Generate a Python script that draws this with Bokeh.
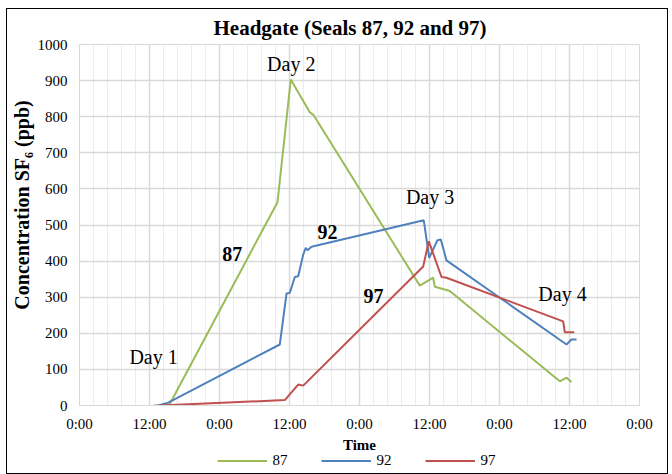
from bokeh.plotting import figure
from bokeh.layouts import column
from bokeh.models import FixedTicker, Legend, LegendItem, Range1d, Title
from bokeh.core.properties import value
from bokeh.embed import file_html
from bokeh.resources import INLINE

# time in hours from first 0:00
t87 = [12.69, 15.43, 33.94, 36.22, 39.48, 40.06, 58.34, 60.63, 60.91, 63.48, 82.34, 83.49, 84.34]
v87 = [0, 3, 563, 903, 812, 806, 332, 354, 329, 317, 67, 77, 65]

t92 = [13.49, 15.21, 34.34, 35.49, 36.05, 36.91, 37.49, 38.35, 38.79, 39.09, 39.77,
       59.02, 59.95, 61.37, 61.94, 62.91, 83.49, 84.34, 85.20]
v92 = [0, 8, 169, 310, 312, 356, 358, 418, 437, 430, 440,
       513, 409, 458, 460, 402, 169, 183, 183]

t97 = [13.77, 35.19, 37.49, 38.35, 58.92, 59.88, 62.06, 62.91, 82.92, 83.19, 84.81]
v97 = [0, 15, 58, 55, 385, 455, 356, 354, 233, 203, 203]

series_names = ["87", "92", "97"]

x_ticks = [0, 12, 24, 36, 48, 60, 72, 84, 96]
x_labels = ["0:00", "12:00", "0:00", "12:00", "0:00", "12:00", "0:00", "12:00", "0:00"]
y_ticks = [0, 100, 200, 300, 400, 500, 600, 700, 800, 900, 1000]

day_text = ["Day 1", "Day 2", "Day 3", "Day 4"]
day_x = [12.7, 36.3, 60.1, 82.8]
day_y = [133, 946, 578, 309]

ser_text = ["87", "92", "97"]
ser_x = [26.2, 42.5, 50.4]
ser_y = [420, 481, 303]

GREEN = "#9BBB59"
BLUE = "#4F81BD"
RED = "#C0504D"
COLORS = [GREEN, BLUE, RED]
FONT = "Liberation Serif"

p = figure(frame_width=560, frame_height=361, output_backend="svg", toolbar_location=None,
           x_range=Range1d(0, 96), y_range=Range1d(0, 1000),
           min_border_left=71, min_border_right=28, min_border_top=34, min_border_bottom=52)

p.title.text = "Headgate (Seals 87, 92 and 97)"
p.title.align = "left"
p.title.offset = 134
p.title.text_font = FONT
p.title.text_font_size = "21px"
p.title.text_font_style = "bold"
p.title.text_color = "black"
p.title.standoff = 9

minor = [i * 2.4 for i in range(41)]
xt = FixedTicker(ticks=x_ticks, minor_ticks=minor)
p.xaxis.ticker = xt
p.xgrid.ticker = xt
p.xaxis.major_label_overrides = {t: l for t, l in zip(x_ticks, x_labels)}
p.yaxis.ticker = FixedTicker(ticks=y_ticks)

p.xgrid.grid_line_color = "#d9d9d9"
p.xgrid.grid_line_width = 1.5
p.xgrid.minor_grid_line_color = "#ececec"
p.xgrid.minor_grid_line_width = 1
p.ygrid.grid_line_color = "#d9d9d9"
p.ygrid.grid_line_width = 1.5
p.outline_line_color = "#d9d9d9"

for ax in (p.xaxis[0], p.yaxis[0]):
    ax.axis_line_color = "#d9d9d9"
    ax.major_tick_line_color = None
    ax.minor_tick_line_color = None
    ax.major_tick_out = 0
    ax.major_tick_in = 0
    ax.minor_tick_out = 0
    ax.minor_tick_in = 0
    ax.major_label_text_font = FONT
    ax.major_label_text_font_size = "15px"
    ax.major_label_text_color = "black"
    ax.axis_label_text_font = FONT
    ax.axis_label_text_font_style = "bold"
    ax.axis_label_text_color = "black"
p.yaxis.axis_label_text_font_size = "20px"
p.yaxis.axis_label = "\u00a0" * 8 + "Concentration SF\u2086 (ppb)"
p.xaxis.major_label_standoff = 10
p.yaxis.major_label_standoff = 12
p.yaxis.axis_label_standoff = 2

all_t = [t87, t92, t97]
all_v = [v87, v92, v97]
for t, v, col in zip(all_t, all_v, COLORS):
    p.line(t, v, line_color=col, line_width=2)

p.text(day_x, day_y, text=day_text, text_font=value(FONT), text_font_size="20px",
       text_align="center", text_baseline="middle", text_color="black")
p.text(ser_x, ser_y, text=ser_text, text_font=value(FONT), text_font_size="20px",
       text_font_style="bold", text_align="center", text_baseline="middle", text_color="black")

xtitle = Title(text="Time", align="center", text_font=FONT, text_font_size="15px",
               text_font_style="bold", text_color="black", standoff=0)
p.add_layout(xtitle, "below")

# legend strip below the chart (its view range shows none of the data)
p2 = figure(width=659, height=26, output_backend="svg", toolbar_location=None,
            x_range=Range1d(200, 201), y_range=Range1d(0, 1),
            x_axis_location=None, y_axis_location=None,
            min_border=0, min_border_left=0, min_border_right=0,
            min_border_top=0, min_border_bottom=0)
p2.grid.visible = False
p2.outline_line_color = None
p2.background_fill_alpha = 0
p2.border_fill_alpha = 0
p2.styles = {"margin-top": "-10px"}

items = []
for name, t, v, col in zip(series_names, all_t, all_v, COLORS):
    r = p2.line(t, v, line_color=col, line_width=2)
    items.append(LegendItem(label=name, renderers=[r]))

legend = Legend(items=items, orientation="horizontal", location="center",
                label_text_font=FONT, label_text_font_size="15px", label_text_color="black",
                glyph_width=50, glyph_height=14, label_height=14, label_standoff=6,
                spacing=28, padding=0, margin=0,
                border_line_color=None, background_fill_alpha=0)
p2.add_layout(legend)

layout = column(p, p2, styles={"border": "1px solid black", "margin-left": "6px",
                               "margin-top": "8px"})

open("out.html", "w").write(file_html(layout, INLINE))
